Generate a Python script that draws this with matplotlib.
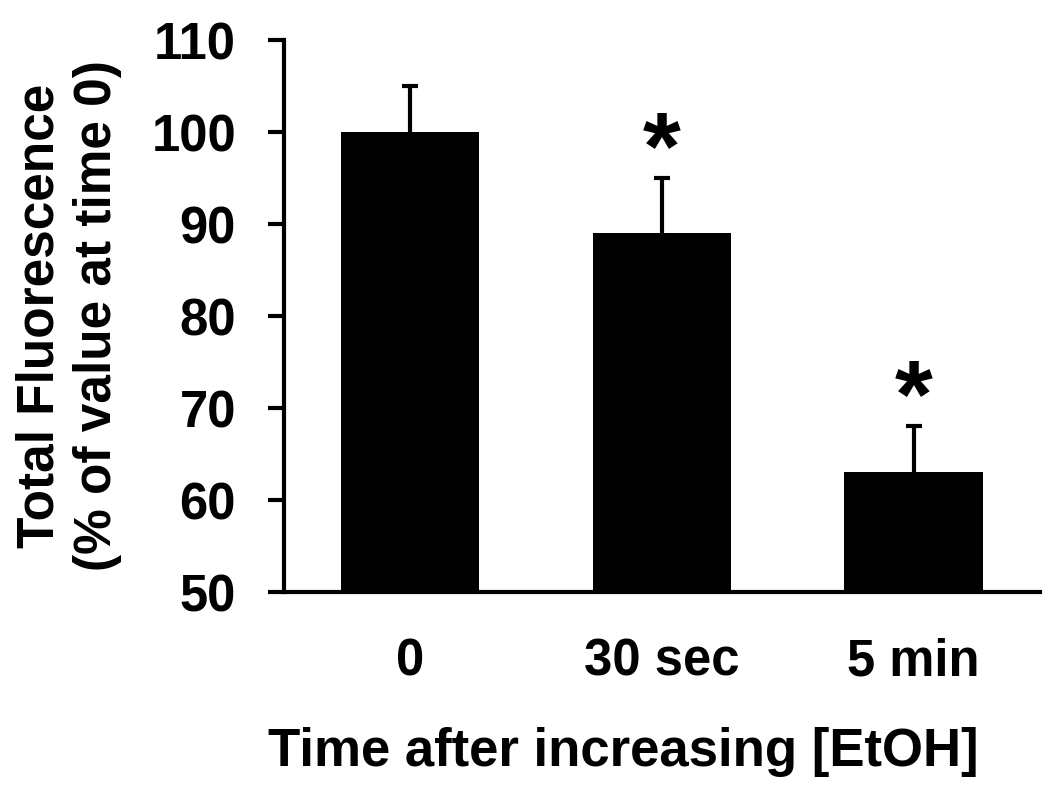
import matplotlib
matplotlib.use("Agg")
import matplotlib.pyplot as plt

# ------------------------------------------------------------------------------
# Data
# ------------------------------------------------------------------------------

categories = ["0", "30 sec", "5 min"]
fluorescence = [100, 89, 63]
errors = [5, 6, 5]
significant = [False, True, True]

# ------------------------------------------------------------------------------
# Plot
# ------------------------------------------------------------------------------

plt.rcParams["font.family"] = ["Liberation Sans", "DejaVu Sans"]
plt.rcParams["font.weight"] = "bold"

fig = plt.figure(figsize=(10.5, 7.86), dpi=100)
ax = fig.add_axes([0.2705, 0.2468, 0.7195, 0.7022])

x = list(range(len(categories)))
tops = [v + e for v, e in zip(fluorescence, errors)]

ax.bar(x, fluorescence, width=0.55, color="black", zorder=2)

# upper error bars only (line + cap)
ax.vlines(x, fluorescence, tops, color="black", linewidth=3, zorder=1)
ax.plot(x, tops, linestyle="none", marker="_", markersize=12,
        markeredgewidth=3, color="black", zorder=1)

# significance stars
for xi, top, sig in zip(x, tops, significant):
    if sig:
        ax.text(xi, top + 2.6, "*", ha="center", va="center",
                fontsize=70, fontweight="bold")

ax.set_xlim(-0.5, 2.5)
ax.set_ylim(50, 110)
ax.set_yticks(range(50, 111, 10))
ax.set_xticks(x)
ax.set_xticklabels(categories)

for side in ["top", "right"]:
    ax.spines[side].set_visible(False)
for side in ["left", "bottom"]:
    ax.spines[side].set_linewidth(3)

ax.tick_params(axis="y", direction="out", length=11.5, width=3, pad=23,
               labelsize=36.5)
ax.tick_params(axis="x", length=0, pad=33, labelsize=36.5)
for lab in ax.get_xticklabels() + ax.get_yticklabels():
    lab.set_fontweight("bold")

ax.set_xlabel("Time after increasing [EtOH]", fontsize=38, fontweight="bold",
              labelpad=28)
ax.xaxis.set_label_coords(0.449, -0.245)
ax.set_ylabel("Total Fluorescence\n(% of value at time 0)", fontsize=37,
              fontweight="bold", labelpad=21, linespacing=1.22)

fig.savefig("out.png", dpi=100)
